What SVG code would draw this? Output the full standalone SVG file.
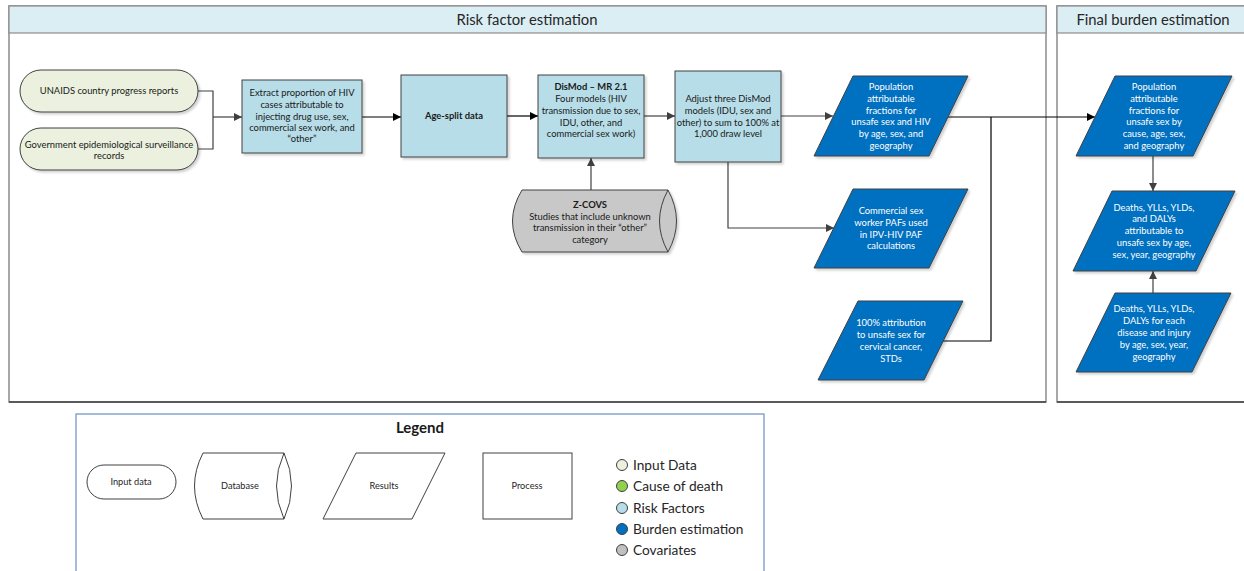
<svg xmlns="http://www.w3.org/2000/svg" width="1244" height="571" viewBox="0 0 1244 571">
  <defs>
    <marker id="arrDark" viewBox="0 0 10 10" refX="10" refY="5" markerWidth="9" markerHeight="8" markerUnits="userSpaceOnUse" orient="auto">
      <path d="M0,0 L10,5 L0,10 z" fill="#404040"/>
    </marker>
    <marker id="arrBlack" viewBox="0 0 10 10" refX="10" refY="5" markerWidth="9" markerHeight="8" markerUnits="userSpaceOnUse" orient="auto">
      <path d="M0,0 L10,5 L0,10 z" fill="#000"/>
    </marker>
    <filter id="shadow" x="-10%" y="-10%" width="130%" height="130%">
      <feDropShadow dx="2" dy="2" stdDeviation="1" flood-color="#000" flood-opacity="0.18"/>
    </filter>
  </defs>
  <style>
    text { font-family: Lato, "Liberation Sans", sans-serif; }
    .lane { fill: #ffffff; stroke: #8c8c8c; stroke-width: 1.5; }
    .laneHead { fill: #dbeef4; stroke: #8c8c8c; stroke-width: 1.2; }
    .laneTitle { font-size: 14.8px; fill: #262626; text-anchor: middle; }
    .input { fill: #ebf1de; stroke: #404040; stroke-width: 1; filter: url(#shadow); }
    .risk { fill: #b7dde8; stroke: #404040; stroke-width: 1; filter: url(#shadow); }
    .cov { fill: #c8c8c8; stroke: #404040; stroke-width: 1; filter: url(#shadow); }
    .burden { fill: #0070c0; stroke: #404040; stroke-width: 1; filter: url(#shadow); }
    .t { font-size: 9.4px; fill: #1a1a1a; text-anchor: middle; }
    .tw { font-size: 9.4px; fill: #ffffff; text-anchor: middle; }
    .b { font-weight: bold; }
    .conn { fill: none; stroke: #404040; stroke-width: 1.2; }
    .connB { fill: none; stroke: #000000; stroke-width: 1.2; }
    .leg { fill: #ffffff; stroke: #404040; stroke-width: 1; }
    .legT { font-size: 9.2px; fill: #262626; text-anchor: middle; }
    .key { font-size: 13.7px; fill: #262626; }
    .dot { stroke: #404040; stroke-width: 1; }
  </style>

  <!-- swimlanes -->
  <g id="lane-risk">
    <rect class="lane" x="9" y="6" width="1037" height="396"/>
    <line x1="9" y1="402" x2="1046" y2="402" stroke="#404040" stroke-width="1.5"/>
    <rect class="laneHead" x="9" y="6" width="1037" height="27"/>
    <text class="laneTitle" x="527" y="24.5">Risk factor estimation</text>
  </g>
  <g id="lane-burden">
    <rect class="lane" x="1057" y="6" width="200" height="396"/>
    <line x1="1057" y1="402" x2="1250" y2="402" stroke="#404040" stroke-width="1.5"/>
    <rect class="laneHead" x="1057" y="6" width="200" height="27"/>
    <text class="laneTitle" x="1153" y="24.5">Final burden estimation</text>
  </g>

  <!-- connectors -->
  <g id="connectors">
    <path class="conn" d="M198,91 H213 V149 H198"/>
    <path class="conn" d="M213,117 H242" marker-end="url(#arrDark)"/>
    <path class="connB" d="M362,117 H401" marker-end="url(#arrBlack)"/>
    <path class="connB" d="M507,116 H538" marker-end="url(#arrBlack)"/>
    <path class="conn" d="M644,116 H675" marker-end="url(#arrDark)"/>
    <path class="conn" d="M591,190 V158" marker-end="url(#arrDark)"/>
    <path class="conn" d="M781,116 H833" marker-end="url(#arrDark)"/>
    <path class="conn" d="M728,162 V228 H834" marker-end="url(#arrDark)"/>
    <path class="connB" d="M948,117 H1095" marker-end="url(#arrBlack)"/>
    <path class="connB" d="M943,341 H991 V117"/>
    <path class="conn" d="M1153,156 V191" marker-end="url(#arrDark)"/>
    <path class="conn" d="M1153,293 V271" marker-end="url(#arrDark)"/>
  </g>

  <!-- input data -->
  <g id="unaids">
    <rect class="input" x="20" y="70" width="178" height="42" rx="21" ry="21"/>
    <text class="t" x="109" y="94">UNAIDS country progress reports</text>
  </g>
  <g id="gov-surveillance">
    <rect class="input" x="20" y="128" width="178" height="42" rx="21" ry="21"/>
    <text class="t" x="109" y="148">Government epidemiological surveillance</text>
    <text class="t" x="109" y="159">records</text>
  </g>

  <!-- processes -->
  <g id="extract">
    <rect class="risk" x="242" y="80" width="120" height="73"/>
    <text class="t" x="302" y="96">Extract proportion of HIV</text>
    <text class="t" x="302" y="108">cases attributable to</text>
    <text class="t" x="302" y="120">injecting drug use, sex,</text>
    <text class="t" x="302" y="131">commercial sex work, and</text>
    <text class="t" x="302" y="142">“other”</text>
  </g>
  <g id="age-split">
    <rect class="risk" x="401" y="75" width="106" height="82"/>
    <text class="t b" x="454" y="119">Age-split data</text>
  </g>
  <g id="dismod">
    <rect class="risk" x="538" y="75" width="106" height="83"/>
    <text class="t b" x="591" y="90">DisMod – MR 2.1</text>
    <text class="t" x="591" y="102">Four models (HIV</text>
    <text class="t" x="591" y="114">transmission due to sex,</text>
    <text class="t" x="591" y="126">IDU, other, and</text>
    <text class="t" x="591" y="137">commercial sex work)</text>
  </g>
  <g id="adjust">
    <rect class="risk" x="675" y="71" width="106" height="91"/>
    <text class="t" x="728" y="102">Adjust three DisMod</text>
    <text class="t" x="728" y="114">models (IDU, sex and</text>
    <text class="t" x="728" y="126">other) to sum to 100% at</text>
    <text class="t" x="728" y="137">1,000 draw level</text>
  </g>

  <!-- covariate database -->
  <g id="z-covs">
    <path class="cov" d="M522,190 H668 Q685,221 668,252 H522 Q503,221 522,190 Z"/>
    <path fill="none" stroke="#404040" stroke-width="1" d="M668,190 Q651,221 668,252"/>
    <text class="t b" x="590" y="208">Z-COVS</text>
    <text class="t" x="590" y="220">Studies that include unknown</text>
    <text class="t" x="590" y="231">transmission in their “other”</text>
    <text class="t" x="590" y="243">category</text>
  </g>

  <!-- results -->
  <g id="paf-hiv">
    <polygon class="burden" points="853,76 968,76 929,156 814,156"/>
    <text class="tw" x="891" y="90">Population</text>
    <text class="tw" x="891" y="102">attributable</text>
    <text class="tw" x="891" y="114">fractions for</text>
    <text class="tw" x="891" y="125">unsafe sex and HIV</text>
    <text class="tw" x="891" y="137">by age, sex, and</text>
    <text class="tw" x="891" y="149">geography</text>
  </g>
  <g id="csw-paf">
    <polygon class="burden" points="853,189 968,189 929,268 814,268"/>
    <text class="tw" x="891" y="214">Commercial sex</text>
    <text class="tw" x="891" y="226">worker PAFs used</text>
    <text class="tw" x="891" y="238">in IPV-HIV PAF</text>
    <text class="tw" x="891" y="249">calculations</text>
  </g>
  <g id="cervical">
    <polygon class="burden" points="858,301 963,301 924,380 818,380"/>
    <text class="tw" x="891" y="326">100% attribution</text>
    <text class="tw" x="891" y="338">to unsafe sex for</text>
    <text class="tw" x="891" y="350">cervical cancer,</text>
    <text class="tw" x="891" y="362">STDs</text>
  </g>

  <!-- final burden -->
  <g id="paf-cause">
    <polygon class="burden" points="1115,76 1232,76 1193,156 1076,156"/>
    <text class="tw" x="1154" y="90">Population</text>
    <text class="tw" x="1154" y="102">attributable</text>
    <text class="tw" x="1154" y="114">fractions for</text>
    <text class="tw" x="1154" y="125">unsafe sex by</text>
    <text class="tw" x="1154" y="137">cause, age, sex,</text>
    <text class="tw" x="1154" y="149">and geography</text>
  </g>
  <g id="attributable-burden">
    <polygon class="burden" points="1112,191 1235,191 1196,271 1073,271"/>
    <text class="tw" x="1154" y="211">Deaths, YLLs, YLDs,</text>
    <text class="tw" x="1154" y="222">and DALYs</text>
    <text class="tw" x="1154" y="234">attributable to</text>
    <text class="tw" x="1154" y="246">unsafe sex by age,</text>
    <text class="tw" x="1154" y="258">sex, year, geography</text>
  </g>
  <g id="total-burden">
    <polygon class="burden" points="1115,293 1231,293 1192,372 1076,372"/>
    <text class="tw" x="1154" y="312">Deaths, YLLs, YLDs,</text>
    <text class="tw" x="1154" y="324">DALYs for each</text>
    <text class="tw" x="1154" y="336">disease and injury</text>
    <text class="tw" x="1154" y="348">by age, sex, year,</text>
    <text class="tw" x="1154" y="360">geography</text>
  </g>

  <!-- legend -->
  <g id="legend">
    <rect x="76" y="414" width="688" height="170" fill="#ffffff" stroke="#6a8fbf" stroke-width="1.2"/>
    <text x="420" y="433" font-size="15px" font-weight="bold" fill="#1a1a1a" text-anchor="middle">Legend</text>
    <rect class="leg" x="87" y="465" width="89" height="34" rx="17" ry="17"/>
    <text class="legT" x="131" y="485">Input data</text>
    <path class="leg" d="M203,453 H284 Q299,486 284,519 H203 Q186,486 203,453 Z"/>
    <path fill="none" stroke="#404040" stroke-width="1" d="M284,453 Q269,486 284,519"/>
    <text class="legT" x="240" y="489">Database</text>
    <polygon class="leg" points="356,453 445,453 412,519 323,519"/>
    <text class="legT" x="384" y="489">Results</text>
    <rect class="leg" x="483" y="453" width="89" height="66"/>
    <text class="legT" x="527" y="489">Process</text>
    <circle class="dot" cx="622" cy="465" r="5.5" fill="#ebf1de"/>
    <text class="key" x="633" y="470">Input Data</text>
    <circle class="dot" cx="622" cy="486" r="5.5" fill="#92d050"/>
    <text class="key" x="633" y="491">Cause of death</text>
    <circle class="dot" cx="622" cy="508" r="5.5" fill="#b7dde8"/>
    <text class="key" x="633" y="513">Risk Factors</text>
    <circle class="dot" cx="622" cy="529" r="5.5" fill="#0070c0"/>
    <text class="key" x="633" y="534">Burden estimation</text>
    <circle class="dot" cx="622" cy="550" r="5.5" fill="#c0c0c0"/>
    <text class="key" x="633" y="555">Covariates</text>
  </g>
</svg>
